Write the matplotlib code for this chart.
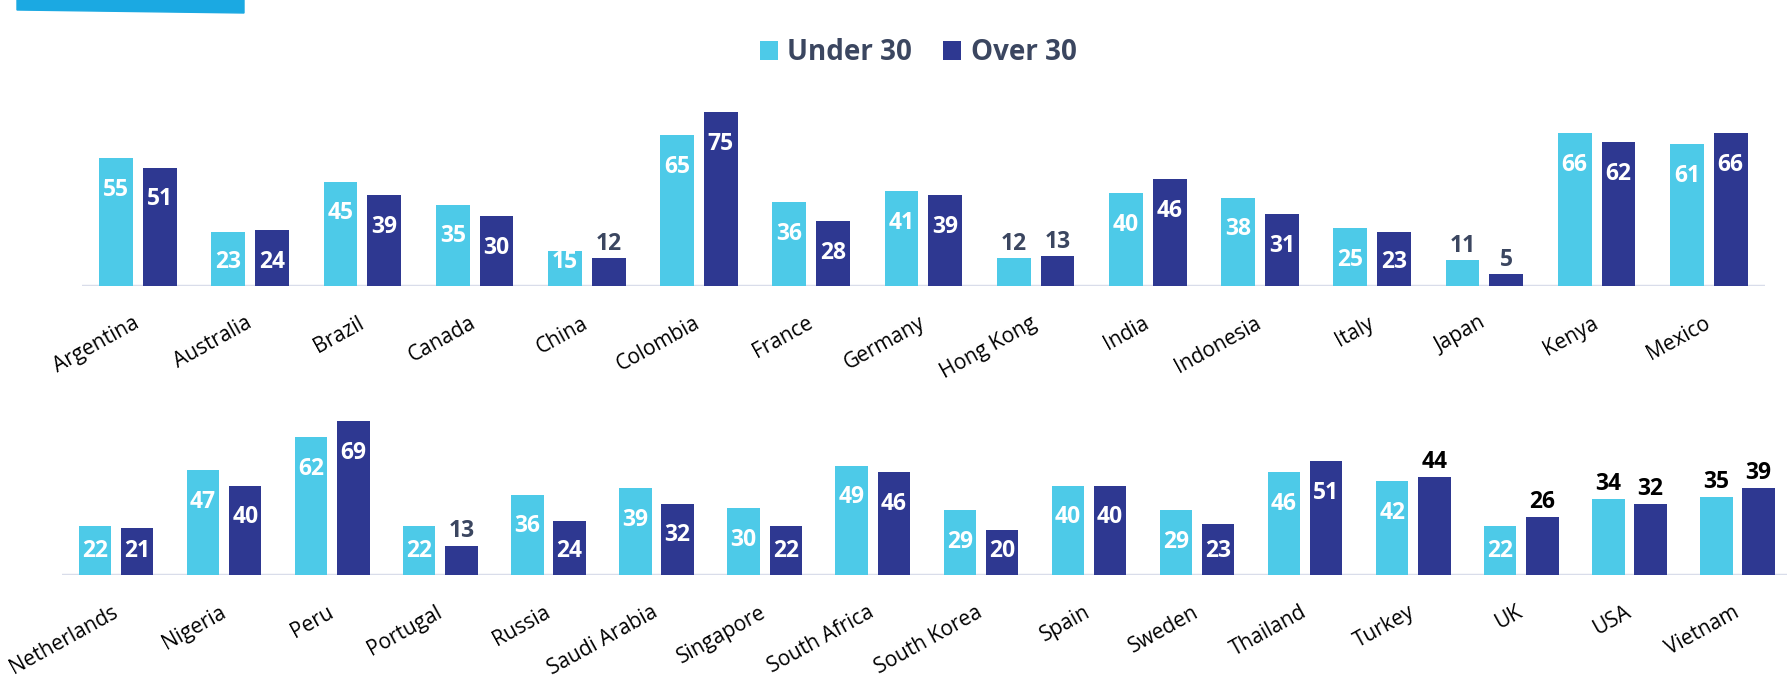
import numpy as np
import matplotlib
matplotlib.use("Agg")
import matplotlib.pyplot as plt
from matplotlib.patches import Polygon

plt.rcParams['font.family'] = ['Open Sans', 'DejaVu Sans']

# data
top_countries = ["Argentina", "Australia", "Brazil", "Canada", "China", "Colombia", "France",
                 "Germany", "Hong Kong", "India", "Indonesia", "Italy", "Japan", "Kenya", "Mexico"]
top_under = [55, 23, 45, 35, 15, 65, 36, 41, 12, 40, 38, 25, 11, 66, 61]
top_over = [51, 24, 39, 30, 12, 75, 28, 39, 13, 46, 31, 23, 5, 62, 66]

bot_countries = ["Netherlands", "Nigeria", "Peru", "Portugal", "Russia", "Saudi Arabia", "Singapore",
                 "South Africa", "South Korea", "Spain", "Sweden", "Thailand", "Turkey", "UK", "USA", "Vietnam"]
bot_under = [22, 47, 62, 22, 36, 39, 30, 49, 29, 40, 29, 46, 42, 22, 34, 35]
bot_over = [21, 40, 69, 13, 24, 32, 22, 46, 20, 40, 23, 51, 44, 26, 32, 39]

# where each value label goes: 'in' = inside bar, 'out' = above (slate), 'outk' = above (black)
top_under_lbl = ['in'] * 8 + ['out', 'in', 'in', 'in', 'out', 'in', 'in']
top_over_lbl = ['in'] * 4 + ['out', 'in', 'in', 'in', 'out', 'in', 'in', 'in', 'out', 'in', 'in']
bot_under_lbl = ['in'] * 14 + ['outk', 'outk']
bot_over_lbl = ['in', 'in', 'in', 'out'] + ['in'] * 8 + ['outk', 'outk', 'outk', 'outk']

LIGHT = "#4DCAE8"
DARK = "#2E3891"
SLATE = "#3B4660"

W, H = 1787, 681
fig = plt.figure(figsize=(W / 100, H / 100), dpi=100)

# blue banner at the top left
fig.patches.append(Polygon([(17 / W, 1), (244 / W, 1), (244 / W, 1 - 13 / H), (17 / W, 1 - 10 / H)],
                           closed=True, transform=fig.transFigure, color="#1BA9E2"))


def panel(rect, names, under, over, lab_u, lab_o, out_gap):
    ax = fig.add_axes(rect)
    ax.patch.set_visible(False)
    x = np.arange(len(names))
    bu = ax.bar(x - 0.195, under, 0.30, color=LIGHT, zorder=3)
    bo = ax.bar(x + 0.195, over, 0.30, color=DARK, zorder=3)
    ax.set_xlim(-0.5, len(names) - 0.5)
    ax.set_ylim(0, 80)
    ax.axhline(0, color="#D9DDEA", lw=2.5, zorder=2)
    for s in ax.spines.values():
        s.set_visible(False)
    ax.set_yticks([])
    ax.set_xticks(x)
    ax.set_xticklabels(names, rotation=29, ha='right', va='center', rotation_mode='anchor', fontsize=15)
    ax.tick_params(axis='x', length=0, pad=26)

    ppu = ax.get_window_extent().height / 80.0
    for xs, vals, labs in [(x - 0.195, under, lab_u), (x + 0.195, over, lab_o)]:
        for xi, v, lb in zip(xs, vals, labs):
            if lb == 'in':
                yb = max(v - 37.75 / ppu, 17.75 / ppu)
                ax.text(xi, yb, str(v), ha='center', va='baseline', color='white',
                        fontsize=16.5, fontweight='bold', zorder=4)
            else:
                col = SLATE if lb == 'out' else 'black'
                ax.text(xi, v + out_gap / ppu, str(v), ha='center', va='baseline', color=col,
                        fontsize=16.5, fontweight='bold', zorder=4)
    return bu, bo


bu, bo = panel([81.9 / W, (H - 285.7) / H, 1683 / W, 185.2 / H],
               top_countries, top_under, top_over, top_under_lbl, top_over_lbl, 8)
panel([62 / W, (H - 574.7) / H, 1729.6 / W, 178 / H],
      bot_countries, bot_under, bot_over, bot_under_lbl, bot_over_lbl, 9)

leg = fig.legend([bu, bo], ["Under 30", "Over 30"], loc='center', bbox_to_anchor=(918 / W, 1 - 53 / H),
                 ncol=2, frameon=False, prop={'size': 20, 'weight': 'bold'},
                 handlelength=0.65, handleheight=0.65, handletextpad=0.35, columnspacing=1.1)
for t in leg.get_texts():
    t.set_color(SLATE)

fig.savefig("out.png", dpi=100)
